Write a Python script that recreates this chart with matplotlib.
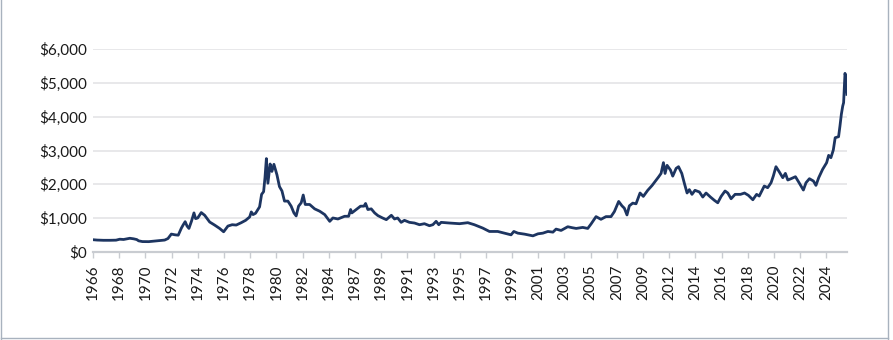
import matplotlib
matplotlib.use("Agg")
from matplotlib import pyplot as plt
from matplotlib.lines import Line2D
import numpy as np

plt.rcParams['font.family'] = ['Lato', 'DejaVu Sans']

# inflation-adjusted price
years = [1966.17, 1966.5, 1967.0, 1967.5, 1968.0, 1968.3, 1968.6, 1968.9, 1969.1, 1969.4,
         1969.65, 1969.8, 1970.1, 1970.6, 1971.07, 1971.5, 1971.87, 1972.13, 1972.4, 1972.7,
         1972.95, 1973.2, 1973.35, 1973.5, 1973.65, 1973.8, 1974.0, 1974.2, 1974.33, 1974.5,
         1974.78, 1975.05, 1975.45, 1975.84, 1976.24, 1976.56, 1976.9, 1977.24, 1977.56, 1977.96,
         1978.31, 1978.63, 1978.76, 1978.9, 1979.1, 1979.42, 1979.58, 1979.74, 1979.85, 1979.96,
         1980.08, 1980.26, 1980.4, 1980.56, 1980.8, 1981.0, 1981.2, 1981.4, 1981.67, 1981.93,
         1982.15, 1982.33, 1982.52, 1982.73, 1982.89, 1983.05, 1983.4, 1983.8, 1984.2, 1984.6,
         1985.0, 1985.25, 1985.65, 1986.18, 1986.5, 1986.66, 1986.76, 1987.1, 1987.45, 1987.72,
         1987.85, 1988.03, 1988.3, 1988.57, 1988.83, 1989.2, 1989.5, 1989.9, 1990.15, 1990.4,
         1990.68, 1990.94, 1991.34, 1991.74, 1992.14, 1992.53, 1992.93, 1993.2, 1993.46, 1993.67,
         1993.86, 1994.52, 1995.32, 1995.98, 1996.5, 1997.17, 1997.7, 1998.36, 1998.9, 1999.42,
         1999.64, 1999.96, 2000.5, 2001.16, 2001.56, 2001.95, 2002.35, 2002.75, 2003.0, 2003.4,
         2003.93, 2004.3, 2004.6, 2005.12, 2005.52, 2005.78, 2006.18, 2006.57, 2006.97, 2007.37,
         2007.64, 2007.98, 2008.24, 2008.43, 2008.64, 2008.83, 2009.1, 2009.36, 2009.68, 2009.94,
         2010.29, 2010.63, 2010.9, 2011.16, 2011.35, 2011.54, 2011.67, 2011.83, 2012.1, 2012.28,
         2012.55, 2012.74, 2013.0, 2013.21, 2013.42, 2013.6, 2013.81, 2014.05, 2014.4, 2014.67,
         2014.93, 2015.28, 2015.6, 2015.86, 2016.13, 2016.44, 2016.66, 2016.92, 2017.24, 2017.67,
         2017.99, 2018.3, 2018.65, 2018.95, 2019.16, 2019.56, 2019.83, 2020.1, 2020.28, 2020.49,
         2020.76, 2021.03, 2021.24, 2021.43, 2021.69, 2022.04, 2022.36, 2022.67, 2022.88, 2023.15,
         2023.47, 2023.67, 2023.89, 2024.2, 2024.52, 2024.68, 2024.86, 2025.05, 2025.2, 2025.47,
         2025.58, 2025.69, 2025.8, 2025.87, 2025.98, 2026.06, 2026.14]
prices = [355, 345, 338, 338, 342, 370, 362, 385, 398, 382,
          360, 322, 300, 298, 315, 330, 345, 390, 522, 500,
          490, 700, 800, 890, 760, 690, 900, 1150, 980, 1000,
          1160, 1080, 880, 790, 690, 590, 760, 800, 790, 860,
          930, 1030, 1180, 1100, 1140, 1330, 1700, 1780, 2200, 2760,
          2030, 2600, 2380, 2590, 2280, 1930, 1800, 1500, 1500, 1350,
          1150, 1060, 1350, 1450, 1680, 1400, 1400, 1270, 1200, 1100,
          900, 1000, 970, 1050, 1050, 1250, 1150, 1250, 1350, 1350,
          1430, 1250, 1270, 1150, 1070, 1000, 950, 1080, 970, 1000,
          870, 930, 870, 850, 800, 830, 770, 800, 900, 800,
          870, 850, 830, 860, 800, 700, 600, 600, 550, 500,
          600, 550, 520, 470, 530, 550, 600, 580, 670, 630,
          740, 710, 690, 720, 690, 820, 1040, 960, 1040, 1040,
          1190, 1490, 1360, 1290, 1090, 1360, 1440, 1420, 1740, 1640,
          1820, 1960, 2090, 2220, 2320, 2640, 2320, 2560, 2420, 2240,
          2470, 2520, 2320, 2020, 1740, 1840, 1700, 1820, 1770, 1620,
          1740, 1620, 1520, 1450, 1640, 1800, 1740, 1570, 1700, 1700,
          1740, 1670, 1540, 1700, 1650, 1947, 1897, 2045, 2243, 2520,
          2362, 2194, 2322, 2125, 2164, 2223, 2026, 1828, 2045, 2164,
          2095, 1966, 2194, 2441, 2638, 2856, 2787, 3014, 3379, 3409,
          3725, 4071, 4318, 4417, 5287, 5158, 4664]

tick_labels = ['1966', '1968', '1970', '1972', '1974', '1976', '1978', '1980', '1982', '1984',
               '1987', '1989', '1991', '1993', '1995', '1997', '1999', '2001', '2003', '2005',
               '2007', '2009', '2012', '2014', '2016', '2018', '2020', '2022', '2024']
y_ticks = [0, 1000, 2000, 3000, 4000, 5000, 6000]

W, H = 893, 340
fig = plt.figure(figsize=(W / 100, H / 100), dpi=100)
ax = fig.add_axes([93 / W, 1 - 251.7 / H, (847 - 93) / W, (251.7 - 49.3) / H])

ax.plot(years, prices, color='#1d3561', lw=2.0, solid_joinstyle='round')

ax.set_xlim(years[0], years[-1])
ax.set_ylim(0, 6000)

# category-style ticks every 25 months from the first point
tick_pos = years[0] + np.arange(len(tick_labels)) * 25 / 12
ax.set_xticks(tick_pos)
ax.set_xticklabels(tick_labels, rotation=90, fontsize=11, color='#1a1a1a')
ax.set_yticks(y_ticks)
ax.set_yticklabels(['$' + format(v, ',') for v in y_ticks], fontsize=11, color='#1a1a1a')

ax.tick_params(axis='x', length=4, width=1, color='#c9ccd1', pad=5)
ax.tick_params(axis='y', length=0, pad=4)
ax.grid(axis='y', color='#e4e4e6', lw=1.2)
ax.set_axisbelow(True)
for s in ['top', 'right', 'left']:
    ax.spines[s].set_visible(False)
ax.spines['bottom'].set_color('#c9ccd1')
ax.spines['bottom'].set_linewidth(1.6)

# thin frame around the figure
for xs, ys in [([1, 1], [0, H]), ([888, 888], [0, H]), ([1, 888], [338, 338])]:
    fig.add_artist(Line2D([x / W for x in xs], [1 - y / H for y in ys],
                          color='#a8b2be', lw=1, transform=fig.transFigure))

fig.savefig('out.png', dpi=100)
